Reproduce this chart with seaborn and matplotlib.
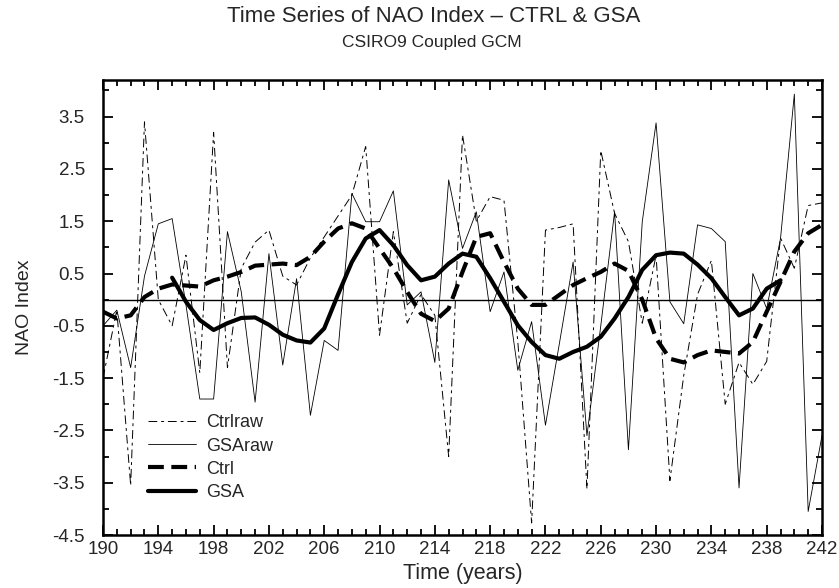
import numpy as np
import pandas as pd
import matplotlib
matplotlib.use("Agg")
import matplotlib.pyplot as plt
import seaborn as sns

years = list(range(190, 243))

ctrl_raw = [-1.5, -0.2, -3.55, 3.4, 0.0, -0.5, 0.85, -1.4, 3.2, -1.3,
            0.6, 1.1, 1.33, 0.45, 0.28, 0.8, 1.2, 1.6, 2.0, 2.93,
            -0.68, 1.3, -0.45, 0.1, -0.3, -3.0, 3.15, 1.5, 1.97, 1.9,
            -0.8, -4.27, 1.33, 1.38, 1.45, -3.62, 2.85, 1.65, 1.11, -0.45,
            0.85, -3.46, -1.45, 0.1, 0.75, -2.0, -1.2, -1.62, -1.18, 1.18,
            0.6, 1.8, 1.85]

gsa_raw = [-0.5, -0.2, -1.3, 0.45, 1.45, 1.55, -0.1, -1.9, -1.9, 1.3,
           0.15, -1.96, 0.88, -1.25, 0.4, -2.21, -0.78, -0.97, 2.03, 1.49,
           1.49, 2.08, -0.1, 0.15, -1.2, 2.29, 0.98, 1.68, -0.23, 0.53,
           -1.35, -0.42, -2.4, -0.85, 0.72, -2.6, -0.5, 1.68, -2.87, 1.49,
           3.38, -0.04, -0.46, 1.43, 1.36, 1.11, -3.6, 0.5, -0.17, 1.17,
           3.93, -4.05, -2.6]

ctrl_smooth = [-0.23, -0.36, -0.3, 0.05, 0.21, 0.29, 0.27, 0.25, 0.37, 0.44,
               0.53, 0.65, 0.67, 0.69, 0.66, 0.82, 1.11, 1.36, 1.46, 1.36,
               0.98, 0.6, 0.15, -0.27, -0.41, -0.17, 0.53, 1.2, 1.27, 0.72,
               0.21, -0.1, -0.1, 0.09, 0.28, 0.41, 0.53, 0.69, 0.55, 0.0,
               -0.74, -1.13, -1.2, -1.06, -0.97, -1.0, -1.03, -0.81, -0.23, 0.34,
               0.92, 1.27, 1.43]

gsa_years = list(range(195, 240))
gsa_smooth = [0.42, -0.04, -0.39, -0.58, -0.45,
              -0.35, -0.34, -0.48, -0.67, -0.78, -0.82, -0.55, 0.1, 0.72, 1.17,
              1.33, 1.04, 0.66, 0.37, 0.44, 0.69, 0.88, 0.82, 0.41, -0.04,
              -0.49, -0.81, -1.06, -1.13, -1.0, -0.9, -0.71, -0.36, 0.05, 0.57,
              0.85, 0.9, 0.88, 0.67, 0.41, 0.05, -0.3, -0.17, 0.21, 0.37]

x_ticks = list(range(190, 243, 4))
y_ticks = [-4.5, -3.5, -2.5, -1.5, -0.5, 0.5, 1.5, 2.5, 3.5]

sns.set_theme(style="white")
plt.rcParams['font.family'] = ['Liberation Sans', 'DejaVu Sans']

W, H = 839, 588
fig = plt.figure(figsize=(W / 100, H / 100), dpi=100)
L, R, T, B = 103, 822, 80, 535
ax = fig.add_axes([L / W, 1 - B / H, (R - L) / W, (B - T) / H])

ax.axhline(0, color='black', lw=1.0, zorder=1)

sns.lineplot(x=years, y=ctrl_raw, ax=ax, color='black', lw=0.7,
             linestyle=(0, (9, 4, 3, 4)), label='Ctrlraw')
sns.lineplot(x=years, y=gsa_raw, ax=ax, color='black', lw=0.6,
             linestyle='-', label='GSAraw')
sns.lineplot(x=years, y=ctrl_smooth, ax=ax, color='black', lw=3.0,
             linestyle=(0, (3.8, 1.8)), label='Ctrl')
sns.lineplot(x=gsa_years, y=gsa_smooth, ax=ax, color='black', lw=3.0,
             linestyle='-', label='GSA')

ax.set_xlim(190, 242)
ax.set_ylim(-4.5, 4.2)
ax.set_xticks(x_ticks)
ax.set_xticks(years, minor=True)
ax.set_yticks(y_ticks)
ax.set_yticks([-4, -3, -2, -1, 0, 1, 2, 3, 4], minor=True)
ax.set_yticklabels([f"{v:.1f}" for v in y_ticks])
ax.tick_params(which='both', direction='in', top=True, right=True,
               bottom=True, left=True, color='black', width=1.3)
ax.tick_params(which='major', length=7, labelsize=13.5)
ax.tick_params(axis='y', which='major', pad=13)
ax.tick_params(axis='x', which='major', pad=4)
ax.tick_params(which='minor', length=4)
for s in ax.spines.values():
    s.set_color('black')
    s.set_linewidth(1.8)

ax.set_xlabel('Time (years)', fontsize=15.5, labelpad=4)
ax.set_ylabel('NAO Index', fontsize=14, labelpad=14)

fig.text(0.5 + 14 / W, 1 - 17 / H, 'Time Series of NAO Index – CTRL & GSA',
         ha='center', va='center', fontsize=16)
fig.text(0.5 + 12 / W, 1 - 42 / H, 'CSIRO9 Coupled GCM',
         ha='center', va='center', fontsize=12.5)

leg = ax.legend(loc='center left', bbox_to_anchor=(0.062, 0.17),
                frameon=False, fontsize=13, handlelength=2.7,
                handletextpad=0.55, labelspacing=0.34, borderpad=0,
                borderaxespad=0)

fig.savefig('out.png', dpi=100)
